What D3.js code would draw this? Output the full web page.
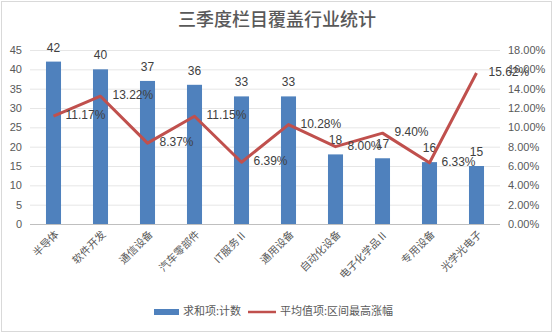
<!DOCTYPE html>
<html><head><meta charset="utf-8">
<script src="https://cdn.jsdelivr.net/npm/d3@7/dist/d3.min.js"></script>
<style>body{margin:0;background:#fff}svg{display:block}</style>
</head><body>
<svg id="c" width="554" height="334"></svg>
<script>
const categories = ["半导体","软件开发","通信设备","汽车零部件","IT服务Ⅱ","通用设备","自动化设备","电子化学品Ⅱ","专用设备","光学光电子"];
const counts = [42,40,37,36,33,33,18,17,16,15];
const gains = [11.17,13.22,8.37,11.15,6.39,10.28,8.00,9.40,6.33,15.62];
const leftTicks = [0,5,10,15,20,25,30,35,40,45];
const rightTicks = [0,2,4,6,8,10,12,14,16,18];
const title = "三季度栏目覆盖行业统计";
const seriesNames = ["求和项:计数","平均值项:区间最高涨幅"];

const svg = d3.select("#c");
const font = "'Liberation Sans', 'Noto Sans CJK SC', sans-serif";
const cjk = "'Noto Sans CJK SC', sans-serif";
const L = 30, R = 500, T = 50, B = 224;

svg.append("rect").attr("x",1.5).attr("y",1.5).attr("width",550).attr("height",330)
  .attr("fill","#fff").attr("stroke","#d9d9d9");

svg.append("text").attr("x",277).attr("y",26).attr("text-anchor","middle")
  .attr("font-family","'Noto Sans CJK SC', serif").attr("font-size",18).attr("font-weight",500)
  .attr("fill","#595959").text(title);

const x = d3.scaleBand().domain(categories).range([L,R]).paddingInner(0.68).paddingOuter(0.34);
const y = d3.scaleLinear().domain([0,45]).range([B,T]);
const y2 = d3.scaleLinear().domain([0,18]).range([B,T]);

// gridlines
svg.append("g").selectAll("line").data(leftTicks).join("line")
  .attr("x1",L).attr("x2",R).attr("y1",d=>y(d)+0.5).attr("y2",d=>y(d)+0.5)
  .attr("stroke",d=>d===0?"#bfbfbf":"#e6e6e6").attr("stroke-width",1);

// left axis
const ya = d3.axisLeft(y).tickValues(leftTicks).tickSize(0).tickPadding(6);
const gy = svg.append("g").attr("transform",`translate(${L-2},0)`).call(ya);
gy.select(".domain").remove();
gy.selectAll("text").attr("font-family",font).attr("font-size",11).attr("fill","#595959");

// right axis
const ya2 = d3.axisRight(y2).tickValues(rightTicks).tickSize(0).tickPadding(6).tickFormat(d=>d.toFixed(2)+"%");
const gy2 = svg.append("g").attr("transform",`translate(${R+2},0)`).call(ya2);
gy2.select(".domain").remove();
gy2.selectAll("text").attr("font-family",font).attr("font-size",11).attr("fill","#595959");

// bars
svg.append("g").selectAll("rect").data(counts).join("rect")
  .attr("x",(d,i)=>x(categories[i])).attr("width",x.bandwidth())
  .attr("y",d=>y(d)).attr("height",d=>B-y(d)).attr("fill","#4F81BD");

// bar labels
svg.append("g").selectAll("text").data(counts).join("text")
  .attr("x",(d,i)=>x(categories[i])+x.bandwidth()/2).attr("y",d=>y(d)-10)
  .attr("text-anchor","middle").attr("font-family",font).attr("font-size",12).attr("fill","#404040")
  .text(d=>d);

// x labels
const cx = c => x(c)+x.bandwidth()/2;
svg.append("g").selectAll("text").data(categories).join("text")
  .attr("transform",c=>`translate(${cx(c)+4},${B+9}) rotate(-45)`)
  .attr("text-anchor","end").attr("dominant-baseline","middle")
  .attr("font-family",cjk).attr("font-size",10.5).attr("fill","#595959").text(c=>c);

// line
const line = d3.line().x((d,i)=>cx(categories[i])).y(d=>y2(d));
svg.append("path").datum(gains).attr("d",line).attr("fill","none")
  .attr("stroke","#C0504D").attr("stroke-width",3).attr("stroke-linejoin","round");

svg.append("g").selectAll("text").data(gains).join("text")
  .attr("x",(d,i)=>cx(categories[i])+12).attr("y",d=>y2(d))
  .attr("dominant-baseline","middle").attr("font-family",font).attr("font-size",12).attr("fill","#404040")
  .text(d=>d.toFixed(2)+"%");

// legend
const lg = svg.append("g");
lg.append("rect").attr("x",154).attr("y",309).attr("width",25).attr("height",6).attr("fill","#4F81BD");
lg.append("text").attr("x",183).attr("y",312).attr("dominant-baseline","middle")
  .attr("font-family",cjk).attr("font-size",11).attr("fill","#595959").text(seriesNames[0]);
lg.append("line").attr("x1",248).attr("x2",276).attr("y1",312).attr("y2",312)
  .attr("stroke","#C0504D").attr("stroke-width",2.5);
lg.append("text").attr("x",280).attr("y",312).attr("dominant-baseline","middle")
  .attr("font-family",cjk).attr("font-size",11).attr("fill","#595959").text(seriesNames[1]);
</script>
</body></html>
